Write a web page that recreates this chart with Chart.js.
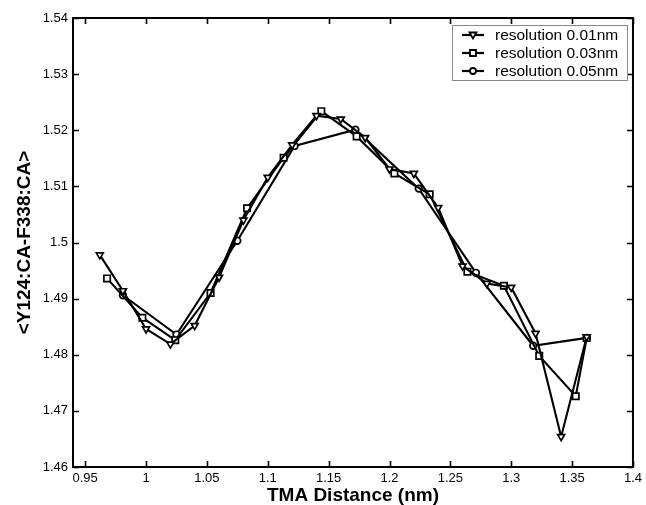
<!DOCTYPE html>
<html>
<head>
<meta charset="utf-8">
<script src="https://cdn.jsdelivr.net/npm/chart.js@4.4.1/dist/chart.umd.min.js"></script>
<style>
  html, body { margin: 0; padding: 0; background: #fff; }
  #wrap { width: 646px; height: 505px; }
</style>
</head>
<body>
<div id="wrap"><canvas id="chart" width="646" height="505"></canvas></div>
<script>
// resolution 0.01nm (triangulos)
const res01X = [0.962, 0.981, 1.0, 1.02, 1.04, 1.06, 1.08, 1.1, 1.12, 1.14, 1.16, 1.18, 1.2, 1.22, 1.24, 1.26, 1.28, 1.3, 1.32, 1.341, 1.362];
const res01Y = [1.4978, 1.4914, 1.4846, 1.4819, 1.4852, 1.4938, 1.5040, 1.5116, 1.5174, 1.5226, 1.5220, 1.5187, 1.5131, 1.5123, 1.5062, 1.4958, 1.4927, 1.4920, 1.4838, 1.4654, 1.4832];

// resolution 0.03nm (cuadrados)
const res03X = [0.968, 0.997, 1.024, 1.053, 1.083, 1.113, 1.144, 1.173, 1.204, 1.233, 1.264, 1.294, 1.323, 1.353, 1.362];
const res03Y = [1.4936, 1.4866, 1.4826, 1.4910, 1.5061, 1.5151, 1.5234, 1.5189, 1.5123, 1.5086, 1.4948, 1.4923, 1.4798, 1.4726, 1.4830];

// resolution 0.05nm (circulos)
const res05X = [0.981, 1.025, 1.075, 1.122, 1.172, 1.224, 1.271, 1.318, 1.362];
const res05Y = [1.4906, 1.4836, 1.5003, 1.5172, 1.5201, 1.5096, 1.4946, 1.4816, 1.4830];

const xTicks = [0.95, 1.0, 1.05, 1.1, 1.15, 1.2, 1.25, 1.3, 1.35, 1.4];
const yTicks = [1.46, 1.47, 1.48, 1.49, 1.5, 1.51, 1.52, 1.53, 1.54];
const seriesNames = ['resolution 0.01nm', 'resolution 0.03nm', 'resolution 0.05nm'];

const FONT = "'Liberation Sans', Arial, Helvetica, sans-serif";

function toPoints(xs, ys) {
  return xs.map((x, i) => ({ x: x, y: ys[i] }));
}

// Marcadores a mano para la leyenda
function drawMarker(ctx, style, x, y) {
  ctx.save();
  ctx.fillStyle = '#fff';
  ctx.strokeStyle = '#000';
  ctx.lineWidth = 1.8;
  ctx.beginPath();
  if (style === 'triangle') {
    ctx.moveTo(x - 3.5, y - 2.5);
    ctx.lineTo(x + 3.5, y - 2.5);
    ctx.lineTo(x, y + 3.5);
    ctx.closePath();
  } else if (style === 'rect') {
    ctx.rect(x - 3, y - 3, 6, 6);
  } else {
    ctx.arc(x, y, 3, 0, Math.PI * 2);
  }
  ctx.fill();
  ctx.stroke();
  ctx.restore();
}

// Caja, marcas hacia dentro y leyenda estilo MATLAB
const matlabAxes = {
  id: 'matlabAxes',
  afterDraw(chart) {
    const ctx = chart.ctx;
    const a = chart.chartArea;
    const xs = chart.scales.x;
    const ys = chart.scales.y;
    const tl = 6;

    ctx.save();
    ctx.strokeStyle = '#000';
    ctx.lineWidth = 1.6;
    ctx.beginPath();
    xTicks.forEach(v => {
      const px = Math.round(xs.getPixelForValue(v)) + 0.5;
      ctx.moveTo(px, a.bottom); ctx.lineTo(px, a.bottom - tl);
      ctx.moveTo(px, a.top); ctx.lineTo(px, a.top + tl);
    });
    yTicks.forEach(v => {
      const py = Math.round(ys.getPixelForValue(v)) + 0.5;
      ctx.moveTo(a.left, py); ctx.lineTo(a.left + tl, py);
      ctx.moveTo(a.right, py); ctx.lineTo(a.right - tl, py);
    });
    ctx.stroke();

    ctx.lineWidth = 2;
    ctx.strokeRect(a.left, a.top, a.right - a.left, a.bottom - a.top);

    // leyenda
    const bw = 175, bh = 55;
    const bx = a.right - 6 - bw;
    const by = a.top + 7;
    ctx.fillStyle = '#fff';
    ctx.fillRect(bx, by, bw, bh);
    ctx.strokeStyle = '#888';
    ctx.lineWidth = 1;
    ctx.strokeRect(bx + 0.5, by + 0.5, bw, bh);

    const styles = ['triangle', 'rect', 'circle'];
    ctx.font = '15.5px ' + FONT;
    ctx.textBaseline = 'middle';
    ctx.textAlign = 'left';
    seriesNames.forEach((name, i) => {
      const cy = by + 10 + i * 18;
      ctx.strokeStyle = '#000';
      ctx.lineWidth = 2.2;
      ctx.beginPath();
      ctx.moveTo(bx + 10, cy);
      ctx.lineTo(bx + 32, cy);
      ctx.stroke();
      drawMarker(ctx, styles[i], bx + 21, cy);
      ctx.fillStyle = '#000';
      ctx.fillText(name, bx + 43, cy + 1);
    });
    ctx.restore();
  }
};

const common = {
  showLine: true,
  borderColor: '#000',
  borderWidth: 2.1,
  pointBackgroundColor: '#fff',
  pointBorderColor: '#000',
  pointBorderWidth: 1.7,
  tension: 0
};

new Chart(document.getElementById('chart'), {
  type: 'scatter',
  data: {
    datasets: [
      Object.assign({ label: seriesNames[0], data: toPoints(res01X, res01Y),
        pointStyle: 'triangle', pointRotation: 180, pointRadius: 4 }, common),
      Object.assign({ label: seriesNames[1], data: toPoints(res03X, res03Y),
        pointStyle: 'rect', pointRadius: 4.5 }, common),
      Object.assign({ label: seriesNames[2], data: toPoints(res05X, res05Y),
        pointStyle: 'circle', pointRadius: 3.3 }, common)
    ]
  },
  options: {
    responsive: false,
    animation: false,
    devicePixelRatio: 1,
    layout: { padding: { top: 18, right: 10, bottom: 0, left: 0 } },
    plugins: { legend: { display: false }, tooltip: { enabled: false } },
    scales: {
      x: {
        type: 'linear',
        min: 0.94,
        max: 1.4,
        grid: { display: false, drawTicks: false },
        border: { display: false },
        afterBuildTicks: s => { s.ticks = xTicks.map(v => ({ value: v })); },
        afterFit: s => { s.height = 38; },
        ticks: {
          color: '#000',
          padding: 4,
          maxRotation: 0,
          autoSkip: false,
          font: { family: FONT, size: 13 },
          callback: v => String(+v.toFixed(2))
        },
        title: {
          display: true,
          text: 'TMA Distance (nm)',
          color: '#000',
          padding: 0,
          font: { family: FONT, size: 19, weight: 'bold', lineHeight: 1 }
        }
      },
      y: {
        type: 'linear',
        min: 1.46,
        max: 1.54,
        grid: { display: false, drawTicks: false },
        border: { display: false },
        afterBuildTicks: s => { s.ticks = yTicks.map(v => ({ value: v })); },
        afterFit: s => { s.width = 73; },
        ticks: {
          color: '#000',
          padding: 5,
          autoSkip: false,
          font: { family: FONT, size: 13 },
          callback: v => String(+v.toFixed(2))
        },
        title: {
          display: true,
          text: '<Y124:CA-F338:CA>',
          color: '#000',
          padding: { top: 13 },
          font: { family: FONT, size: 19, weight: 'bold' }
        }
      }
    }
  },
  plugins: [matlabAxes]
});
</script>
</body>
</html>
